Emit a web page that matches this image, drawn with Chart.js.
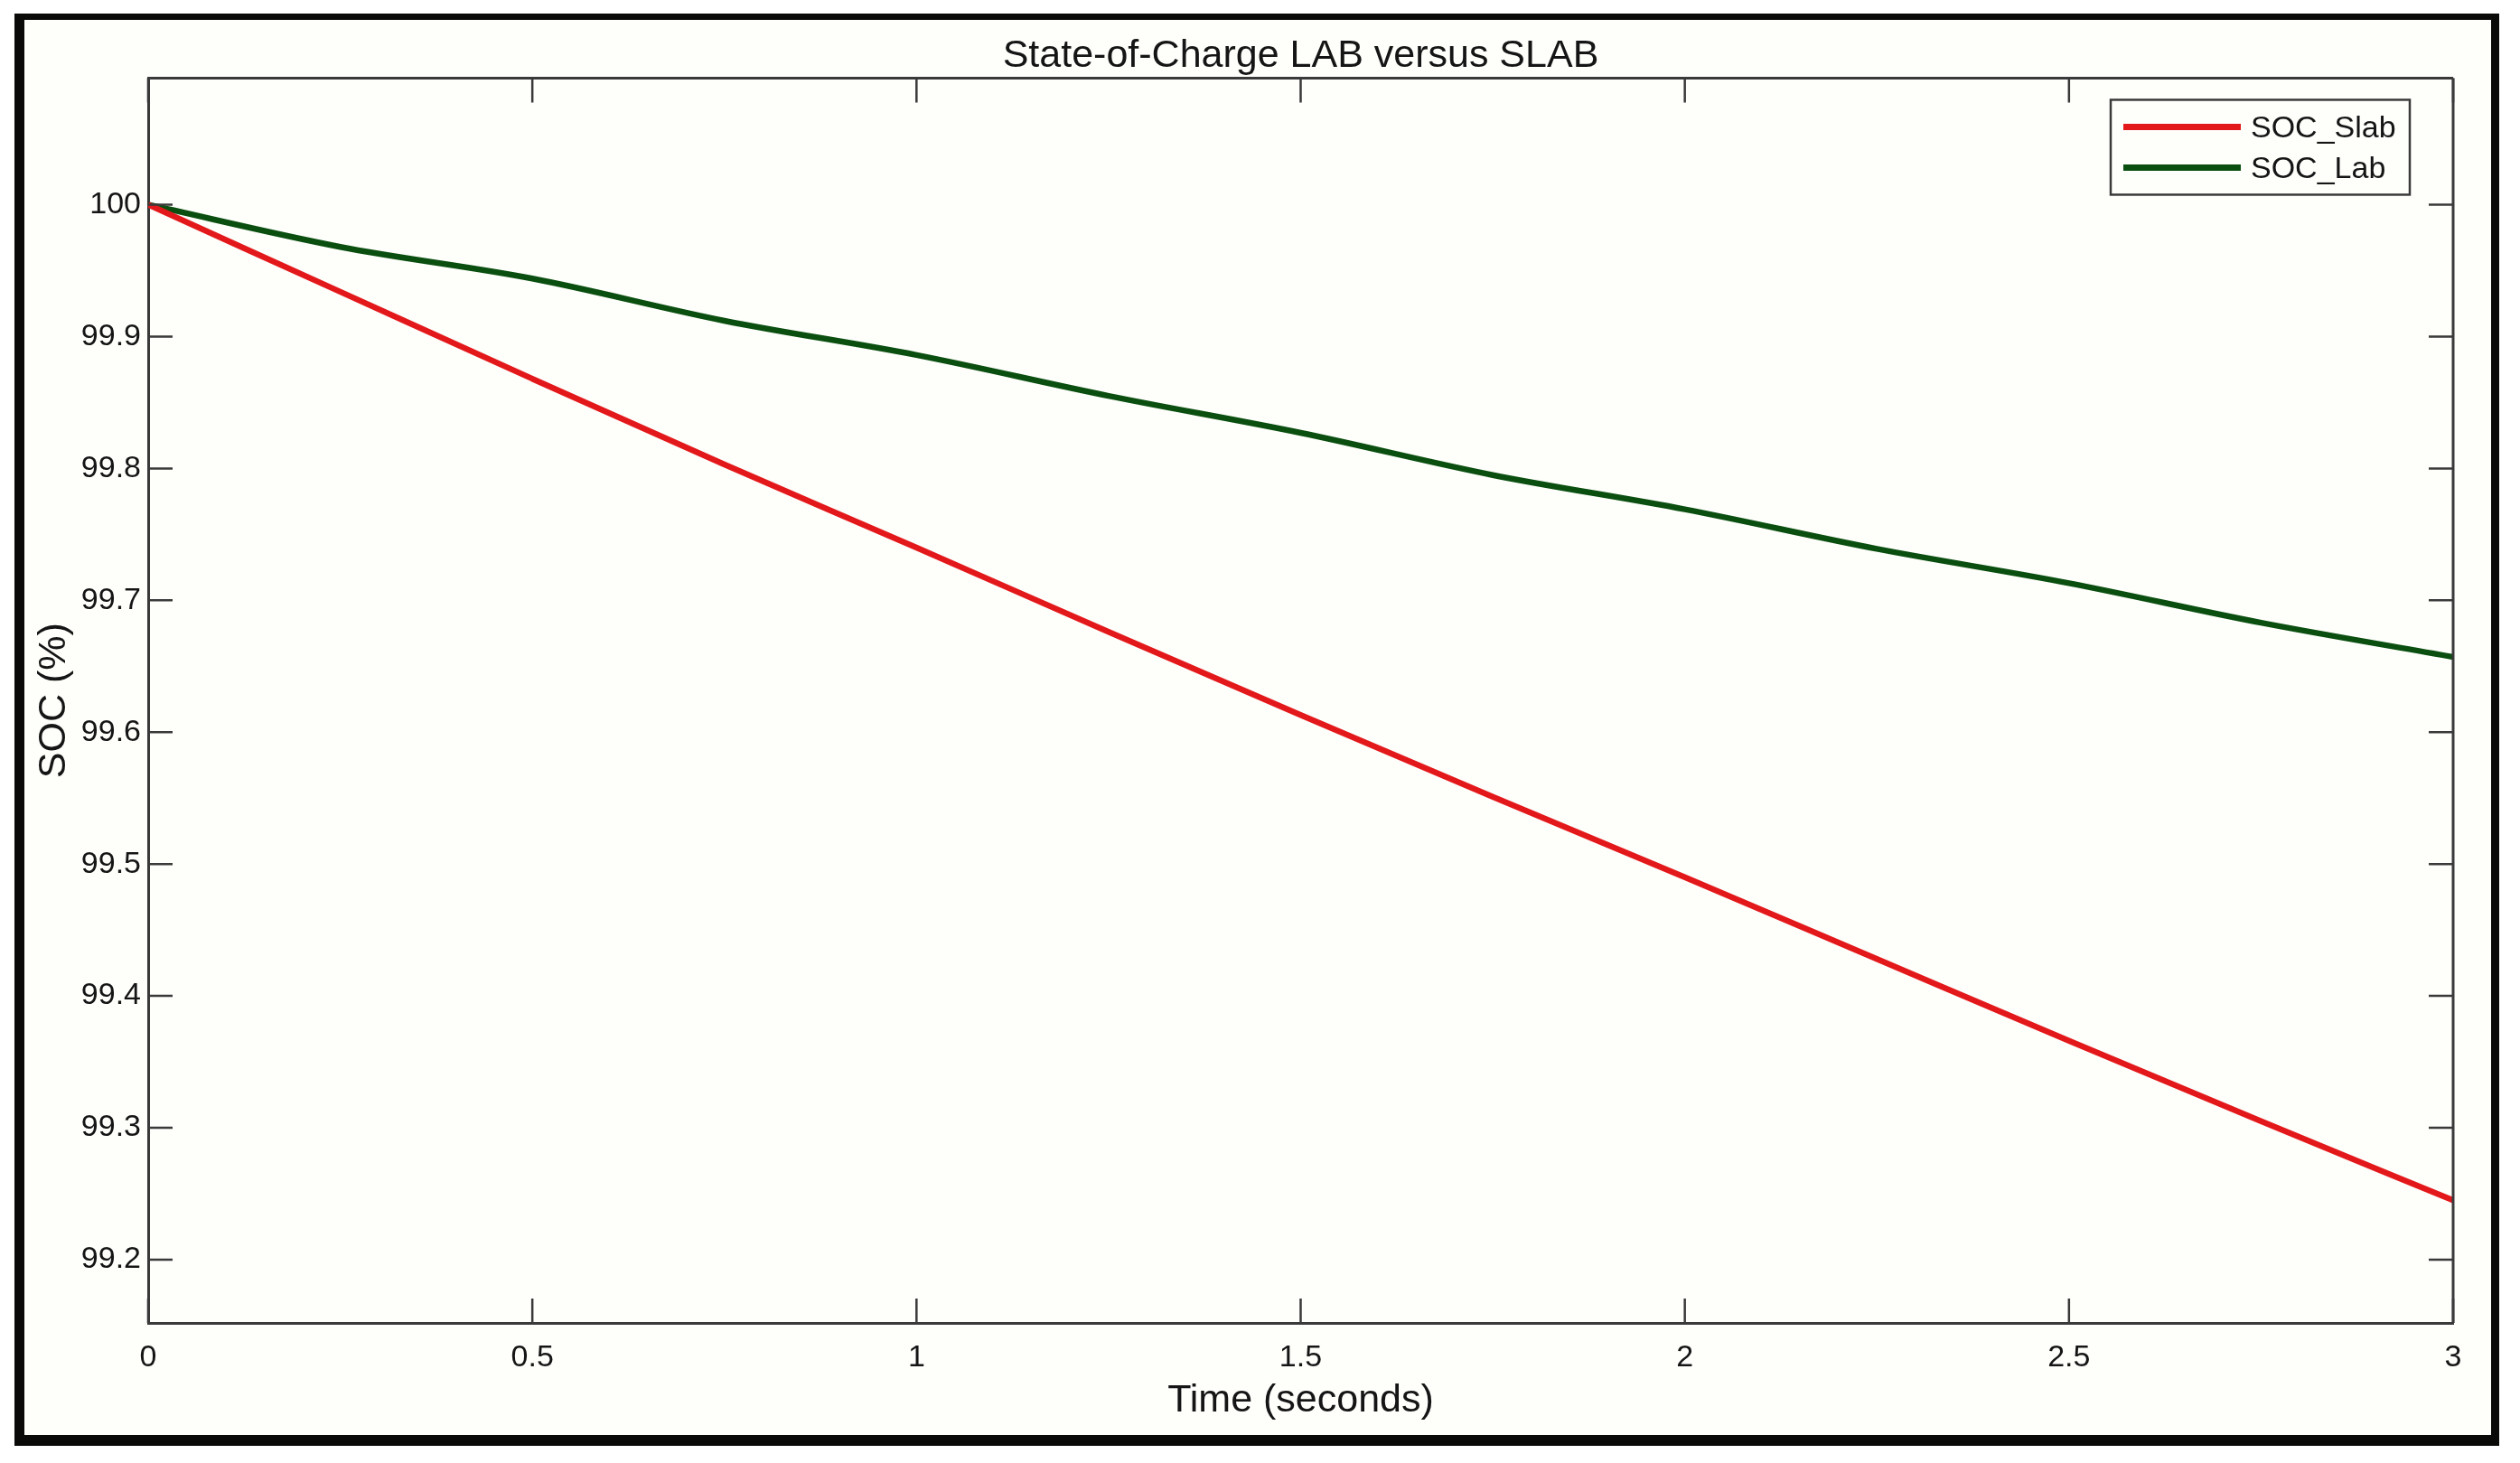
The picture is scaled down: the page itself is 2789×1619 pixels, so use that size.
<!DOCTYPE html>
<html>
<head>
<meta charset="utf-8">
<script src="https://cdn.jsdelivr.net/npm/chart.js@4.4.1/dist/chart.umd.min.js"></script>
<style>
html,body{margin:0;padding:0;background:#ffffff;}
canvas{display:block;}
</style>
</head>
<body>
<canvas id="c" width="2789" height="1619"></canvas>
<script>
// ---- data ----
const timeSeconds = [0, 0.25, 0.5, 0.75, 1.0, 1.25, 1.5, 1.75, 2.0, 2.25, 2.5, 2.75, 3.0];
const socSlab = [100.0, 99.934, 99.868, 99.803, 99.740, 99.676, 99.613, 99.551, 99.490, 99.428, 99.366, 99.305, 99.245];
const socLab  = [100.0, 99.968, 99.944, 99.912, 99.886, 99.855, 99.827, 99.795, 99.769, 99.739, 99.713, 99.683, 99.657];
const seriesLabels = ['SOC_Slab', 'SOC_Lab'];
const seriesColors = ['#e3181b', '#0b4f10'];
const xTickValues = [0, 0.5, 1, 1.5, 2, 2.5, 3];
const xTickLabels = ['0', '0.5', '1', '1.5', '2', '2.5', '3'];
const yTickValues = [99.2, 99.3, 99.4, 99.5, 99.6, 99.7, 99.8, 99.9, 100];
const yTickLabels = ['99.2', '99.3', '99.4', '99.5', '99.6', '99.7', '99.8', '99.9', '100'];
const xRange = [0, 3];
const yRange = [99.152, 100.096];
const chartTitle = 'State-of-Charge LAB versus SLAB';
const xAxisTitle = 'Time (seconds)';
const yAxisTitle = 'SOC (%)';

const FONT = "'Liberation Sans', Arial, Helvetica, sans-serif";
const TEXT = '#151515';
const AXIS = '#3a3a3a';

function labelFor(values, labels, v) {
  for (let i = 0; i < values.length; i++) {
    if (Math.abs(values[i] - v) < 1e-6) return labels[i];
  }
  return '';
}

const framePlugin = {
  id: 'frame',
  beforeDraw(chart) {
    const ctx = chart.ctx;
    ctx.save();
    ctx.fillStyle = '#ffffff';
    ctx.fillRect(0, 0, chart.width, chart.height);
    ctx.fillStyle = '#fefefb';
    ctx.fillRect(16, 15, 2750, 1585);
    ctx.fillStyle = '#0a0a08';
    ctx.fillRect(16, 15, 2750, 7);      // top
    ctx.fillRect(16, 1588, 2750, 12);   // bottom
    ctx.fillRect(16, 15, 11, 1585);     // left
    ctx.fillRect(2757, 15, 9, 1585);    // right
    ctx.restore();
  }
};

const axisBoxPlugin = {
  id: 'axisBox',
  afterDatasetsDraw(chart) {
    const {ctx, chartArea: a, scales} = chart;
    const tl = 27;
    ctx.save();
    ctx.strokeStyle = AXIS;
    ctx.lineWidth = 3;
    ctx.beginPath();
    ctx.moveTo(a.left, a.top); ctx.lineTo(a.right, a.top);
    ctx.moveTo(a.right, a.top); ctx.lineTo(a.right, a.bottom);
    ctx.stroke();
    ctx.lineWidth = 2.5;
    ctx.beginPath();
    scales.x.ticks.forEach(t => {
      const px = scales.x.getPixelForValue(t.value);
      ctx.moveTo(px, a.bottom); ctx.lineTo(px, a.bottom - tl);
      ctx.moveTo(px, a.top); ctx.lineTo(px, a.top + tl);
    });
    scales.y.ticks.forEach(t => {
      const py = scales.y.getPixelForValue(t.value);
      ctx.moveTo(a.left, py); ctx.lineTo(a.left + tl, py);
      ctx.moveTo(a.right, py); ctx.lineTo(a.right - tl, py);
    });
    ctx.stroke();
    ctx.restore();
  }
};

const boxedLegendPlugin = {
  id: 'boxedLegend',
  afterDraw(chart) {
    const {ctx, chartArea: a} = chart;
    const w = 331, h = 105;
    const x0 = a.right - 48 - w;
    const y0 = a.top + 24;
    ctx.save();
    ctx.fillStyle = '#fefefb';
    ctx.fillRect(x0, y0, w, h);
    ctx.strokeStyle = '#3a3a3a';
    ctx.lineWidth = 2.5;
    ctx.strokeRect(x0, y0, w, h);
    ctx.font = '34px ' + FONT;
    ctx.textBaseline = 'middle';
    ctx.textAlign = 'left';
    chart.data.datasets.forEach((ds, i) => {
      const y = y0 + 30 + i * 45;
      ctx.strokeStyle = ds.borderColor;
      ctx.lineWidth = 7;
      ctx.beginPath();
      ctx.moveTo(x0 + 14, y);
      ctx.lineTo(x0 + 144, y);
      ctx.stroke();
      ctx.fillStyle = TEXT;
      ctx.fillText(ds.label, x0 + 155, y + 2);
    });
    ctx.restore();
  }
};

function points(ys) {
  return timeSeconds.map((t, i) => ({x: t, y: ys[i]}));
}

new Chart(document.getElementById('c'), {
  type: 'line',
  data: {
    datasets: [
      {label: seriesLabels[0], data: points(socSlab), borderColor: seriesColors[0], backgroundColor: seriesColors[0],
       borderWidth: 6.5, pointRadius: 0, cubicInterpolationMode: 'monotone', fill: false},
      {label: seriesLabels[1], data: points(socLab), borderColor: seriesColors[1], backgroundColor: seriesColors[1],
       borderWidth: 6.5, pointRadius: 0, cubicInterpolationMode: 'monotone', fill: false}
    ]
  },
  options: {
    responsive: false,
    animation: false,
    devicePixelRatio: 1,
    layout: {padding: {left: 0, right: 74, top: 0, bottom: 0}},
    plugins: {
      legend: {display: false},
      tooltip: {enabled: false},
      title: {
        display: true,
        text: chartTitle,
        fullSize: false,
        color: TEXT,
        font: {family: FONT, size: 43, weight: 'normal', lineHeight: 1.15},
        padding: {top: 37, bottom: 0}
      }
    },
    scales: {
      x: {
        type: 'linear',
        min: xRange[0], max: xRange[1],
        afterBuildTicks: s => { s.ticks = xTickValues.map(v => ({value: v})); },
        afterFit: s => { s.height = 155; },
        grid: {display: false, drawTicks: false},
        border: {display: true, color: AXIS, width: 3},
        ticks: {
          color: TEXT, padding: 18, maxRotation: 0, autoSkip: false,
          font: {family: FONT, size: 34},
          callback: v => labelFor(xTickValues, xTickLabels, v)
        },
        title: {
          display: true, text: xAxisTitle, color: TEXT,
          font: {family: FONT, size: 43, lineHeight: 1.2},
          padding: {top: 0, bottom: 43}
        }
      },
      y: {
        type: 'linear',
        min: yRange[0], max: yRange[1],
        afterBuildTicks: s => { s.ticks = yTickValues.map(v => ({value: v})); },
        afterFit: s => { s.width = 164; },
        grid: {display: false, drawTicks: false},
        border: {display: true, color: AXIS, width: 3},
        ticks: {
          color: TEXT, padding: 8, autoSkip: false,
          font: {family: FONT, size: 34},
          callback: v => labelFor(yTickValues, yTickLabels, v)
        },
        title: {
          display: true, text: yAxisTitle, color: TEXT,
          font: {family: FONT, size: 43, lineHeight: 1.2},
          padding: {top: 34, bottom: 0}
        }
      }
    }
  },
  plugins: [framePlugin, axisBoxPlugin, boxedLegendPlugin]
});
</script>
</body>
</html>
